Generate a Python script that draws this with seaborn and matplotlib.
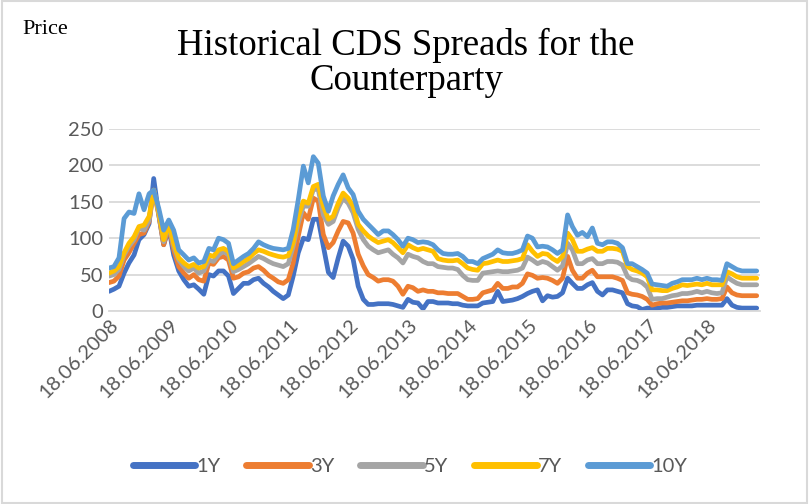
import matplotlib
matplotlib.use("Agg")
import matplotlib.pyplot as plt
import matplotlib.dates as mdates
from matplotlib.transforms import ScaledTranslation
from matplotlib.patches import Rectangle
import numpy as np
import pandas as pd
import seaborn as sns

# Monthly observation dates (18th of each month)
dates = pd.date_range("2008-06-18", periods=131, freq=pd.DateOffset(months=1))

tenors = ["1Y", "3Y", "5Y", "7Y", "10Y"]
colors = ["#4472C4", "#ED7D31", "#A5A5A5", "#FFC000", "#5B9BD5"]

cds_1y = [27, 30, 34, 52, 66, 77, 98, 105, 120, 182,
          132, 91, 114, 77, 55, 43, 34, 36, 30, 23,
          50, 48, 55, 55, 48,
          24, 31, 38, 38, 43, 45, 38, 33, 27, 22, 17, 22,
          48, 80, 100, 98, 126, 126,
          89, 53, 46, 73, 96, 89, 71, 34,
          16, 9, 9, 10, 10, 10, 9, 7, 5, 16, 12, 11,
          3, 13, 13, 11, 11, 11, 10, 10, 8, 7, 7, 7,
          11, 12, 13, 27, 13, 14, 15, 17, 20, 24,
          27, 29, 14, 21, 19, 20, 25, 45, 38, 31,
          31, 36, 39, 27, 22, 29, 29, 27, 25, 10,
          7, 6, 2, 4, 4, 4, 5, 5, 6, 7,
          7, 7, 7, 8, 8, 8, 8, 8, 8, 17,
          8, 5, 4, 4, 4, 4]

cds_3y = [39, 41, 48, 70, 80, 93, 105, 107, 123, 166,
          132, 91, 116, 84, 61, 52, 45, 50, 43, 41,
          66, 64, 73, 75, 70,
          45, 47, 52, 54, 59, 61, 56, 49, 45, 40, 38, 43,
          66, 103, 135, 126, 155, 151,
          105, 87, 94, 110, 123, 121, 107, 78,
          62, 50, 46, 41, 43, 43, 41, 34, 23, 34, 32, 27,
          29, 27, 27, 25, 25, 24, 24, 24, 20, 16, 16, 17,
          25, 27, 29, 38, 31, 31, 33, 33, 38, 51,
          49, 45, 46, 45, 42, 38, 45, 75, 56, 45,
          45, 52, 56, 47, 47, 47, 47, 45, 42, 25,
          23, 22, 20, 16, 8, 10, 11, 11, 12, 13,
          14, 14, 15, 16, 16, 17, 16, 16, 17, 33,
          25, 22, 21, 21, 21, 21]

cds_5y = [48, 50, 57, 77, 89, 98, 114, 111, 125, 166,
          134, 95, 118, 89, 70, 61, 55, 59, 52, 55,
          70, 68, 77, 82, 77,
          54, 57, 61, 65, 70, 75, 72, 68, 65, 63, 61, 65,
          89, 121, 144, 144, 167, 167,
          132, 119, 123, 142, 155, 148, 135, 112,
          98, 89, 84, 80, 82, 84, 78, 73, 66, 78, 75, 73,
          68, 65, 65, 61, 60, 59, 59, 57, 49, 43, 42, 42,
          52, 53, 54, 55, 54, 54, 55, 56, 59, 74,
          70, 65, 68, 66, 61, 56, 62, 93, 84, 65,
          65, 70, 72, 65, 65, 68, 68, 67, 63, 47,
          43, 42, 39, 33, 16, 17, 17, 19, 21, 22,
          24, 24, 25, 27, 25, 27, 25, 24, 25, 47,
          42, 38, 36, 36, 36, 36]

cds_7y = [52, 55, 61, 80, 93, 102, 116, 118, 130, 166,
          136, 98, 120, 93, 73, 66, 61, 64, 59, 61,
          77, 75, 84, 86, 82,
          59, 63, 68, 72, 79, 84, 82, 79, 77, 75, 74, 76,
          94, 130, 151, 148, 171, 174,
          144, 126, 130, 148, 162, 155, 144, 119,
          110, 103, 98, 94, 96, 98, 94, 87, 80, 91, 87, 84,
          86, 84, 82, 72, 70, 69, 69, 70, 65, 59, 57, 56,
          65, 66, 68, 70, 68, 68, 69, 70, 72, 91,
          82, 75, 79, 78, 72, 68, 75, 107, 98, 82,
          82, 85, 87, 82, 82, 86, 86, 85, 82, 61,
          57, 55, 52, 47, 29, 29, 28, 28, 31, 33,
          36, 35, 36, 37, 36, 38, 36, 36, 36, 54,
          51, 47, 45, 45, 45, 45]

cds_10y = [59, 61, 73, 127, 136, 134, 161, 139, 161, 166,
           141, 111, 125, 111, 84, 77, 70, 73, 66, 68,
           86, 84, 100, 98, 93,
           65, 70, 75, 79, 86, 95, 91, 88, 86, 85, 84, 86,
           112, 153, 199, 176, 212, 203,
           158, 137, 158, 174, 187, 169, 160, 137,
           126, 119, 112, 105, 110, 110, 105, 98, 89, 100, 98, 94,
           95, 94, 91, 84, 79, 78, 78, 79, 75, 68, 68, 65,
           72, 75, 78, 84, 80, 79, 79, 81, 84, 103,
           100, 88, 89, 88, 84, 79, 84, 132, 116, 104,
           108, 102, 114, 93, 91, 95, 95, 93, 87, 65,
           65, 61, 57, 52, 37, 36, 35, 34, 38, 40,
           43, 43, 43, 45, 43, 45, 43, 43, 42, 65,
           61, 57, 55, 55, 55, 55]

tick_years = list(range(2008, 2019))

series = dict(zip(tenors, [cds_1y, cds_3y, cds_5y, cds_7y, cds_10y]))
df = pd.DataFrame(
    [(d, t, v) for t in tenors for d, v in zip(dates, series[t])],
    columns=["Date", "Tenor", "Spread"],
)

sns.set_theme(style="white")
plt.rcParams["font.family"] = ["Lato", "DejaVu Sans"]

grey_text = "#595959"
grid_col = "#D9D9D9"

fig = plt.figure(figsize=(8.09, 5.04), dpi=100)
ax = fig.add_axes([109 / 809, 1 - 311 / 504, (760 - 109) / 809, (311 - 129) / 504])

sns.lineplot(data=df, x="Date", y="Spread", hue="Tenor", hue_order=tenors,
             palette=colors, linewidth=3.4, ax=ax, legend=False)

ax.set_ylim(0, 250)
ax.set_yticks([0, 50, 100, 150, 200, 250])
ax.set_xlim(dates[0], dates[-1] + pd.Timedelta(days=20))
ax.set_xticks([pd.Timestamp(f"{y}-06-18") for y in tick_years])
ax.xaxis.set_major_formatter(mdates.DateFormatter("%d.%m.%Y"))
ax.set_xlabel("")
ax.set_ylabel("")

ax.grid(axis="y", color=grid_col, linewidth=1.3)
ax.set_axisbelow(True)
for side in ["left", "right", "top"]:
    ax.spines[side].set_visible(False)
ax.spines["bottom"].set_color(grid_col)
ax.spines["bottom"].set_linewidth(1.3)

ax.tick_params(axis="both", length=0, colors=grey_text, labelsize=14.5)
ax.tick_params(axis="y", pad=4)
ax.tick_params(axis="x", pad=8)
for lab in ax.get_xticklabels():
    lab.set_rotation(45)
    lab.set_ha("right")
    lab.set_va("center")
    lab.set_rotation_mode("anchor")
    lab.set_transform(lab.get_transform() + ScaledTranslation(7 / 100, 0, fig.dpi_scale_trans))

# Legend
handles = [plt.Line2D([], [], color=c, linewidth=5, solid_capstyle="round") for c in colors]
fig.legend(handles, tenors, loc="center", bbox_to_anchor=(410 / 809, 1 - 466 / 504),
           ncol=5, frameon=False, handlelength=3.1, handletextpad=0.05,
           columnspacing=1.3, fontsize=14.5, labelcolor=grey_text)

# Titles
fig.text(406 / 809, 1 - 63 / 504, "Historical CDS Spreads for the\nCounterparty",
         ha="center", va="center", fontsize=26.5, family="Liberation Serif",
         linespacing=1.0, color="black")
fig.text(22 / 809, 1 - 30 / 504, "Price", ha="left", va="center",
         fontsize=16, family="Liberation Serif", color="black")

# Chart area border
fig.patches.append(Rectangle((0.002, 0.002), 0.996, 0.996, transform=fig.transFigure,
                             fill=False, edgecolor=grid_col, linewidth=1.5))

fig.savefig("out.png", dpi=100, facecolor="white")
